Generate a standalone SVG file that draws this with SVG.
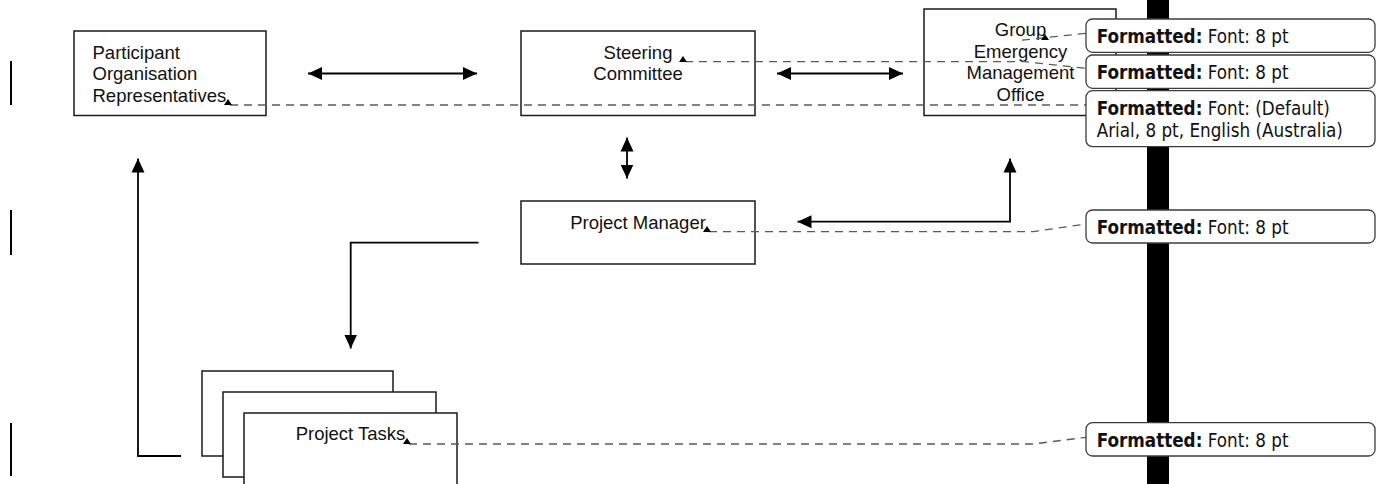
<svg xmlns="http://www.w3.org/2000/svg" width="1376" height="484" viewBox="0 0 1376 484">
<style>
.box{fill:#fff;stroke:#1a1a1a;stroke-width:1.5}
.lbl{font-family:"Liberation Sans",Arial,sans-serif;font-size:18.5px;fill:#111}
.mid{text-anchor:middle}
.arr{fill:none;stroke:#000;stroke-width:1.8}
.dash{fill:none;stroke:#5a5a5a;stroke-width:1.3;stroke-dasharray:8 6}
.anc{fill:#000}
.bal{fill:#fff;stroke:#3c3c3c;stroke-width:1.3}
.bt{font-family:"DejaVu Sans Condensed","DejaVu Sans",sans-serif;font-stretch:condensed;font-size:18.7px;fill:#111}
.bt tspan.b{font-weight:bold}
.bar{fill:#000}
</style>
<defs>
<marker id="ah" markerUnits="userSpaceOnUse" markerWidth="14" markerHeight="14" refX="14" refY="7" orient="auto-start-reverse" viewBox="0 0 14 14">
<path d="M0,0.5 L14,7 L0,13.5 z" fill="#000"/>
</marker>
</defs>
<g id="change-bars">
<rect class="bar" x="10" y="61" width="2" height="44"/>
<rect class="bar" x="10" y="210" width="2" height="45"/>
<rect class="bar" x="10" y="423" width="2" height="53"/>
</g>
<rect id="margin-bar" class="bar" x="1147" y="0" width="22" height="484"/>
<g id="node-participant">
<rect class="box" x="74" y="31" width="192" height="84.5"/>
<text class="lbl" x="92.5" y="59">Participant</text>
<text class="lbl" x="92.5" y="80">Organisation</text>
<text class="lbl" x="92.5" y="101.5">Representatives</text>
</g>
<g id="node-steering">
<rect class="box" x="521" y="31" width="234" height="84.5"/>
<text class="lbl mid" x="638" y="59">Steering</text>
<text class="lbl mid" x="638" y="80">Committee</text>
</g>
<g id="node-group">
<rect class="box" x="924" y="9" width="192" height="106.5"/>
<text class="lbl mid" x="1020.5" y="36">Group</text>
<text class="lbl mid" x="1020.5" y="57.5">Emergency</text>
<text class="lbl mid" x="1020.5" y="79">Management</text>
<text class="lbl mid" x="1020.5" y="100.5">Office</text>
</g>
<g id="node-pm">
<rect class="box" x="521" y="201" width="234" height="63"/>
<text class="lbl mid" x="638" y="228.5">Project Manager</text>
</g>
<g id="node-tasks">
<rect class="box" x="202" y="371" width="191" height="85"/>
<rect class="box" x="223" y="392" width="213" height="85"/>
<rect class="box" x="244" y="413" width="213" height="85"/>
<text class="lbl mid" x="350.5" y="439.5">Project Tasks</text>
</g>
<g id="connectors">
<line class="arr" x1="308" y1="73.5" x2="477" y2="73.5" marker-start="url(#ah)" marker-end="url(#ah)"/>
<line class="arr" x1="777" y1="73.5" x2="903" y2="73.5" marker-start="url(#ah)" marker-end="url(#ah)"/>
<line class="arr" x1="627" y1="137.5" x2="627" y2="178.5" marker-start="url(#ah)" marker-end="url(#ah)"/>
<polyline class="arr" points="1010,158.5 1010,221.7 797.5,221.7" marker-start="url(#ah)" marker-end="url(#ah)"/>
<polyline class="arr" points="478.5,242.7 350.7,242.7 350.7,348.5" marker-end="url(#ah)"/>
<polyline class="arr" points="181,456 138,456 138,158.5" marker-end="url(#ah)"/>
</g>
<g id="comment-links">
<polyline class="dash" points="230,105 1086,105"/>
<polyline class="dash" points="685,61.7 1025,61.7 1086,68.3"/>
<polyline class="dash" points="1022,40.2 1086,33.3"/>
<polyline class="dash" points="709,231.7 1033,231.7 1086,224"/>
<polyline class="dash" points="409,444 1033,444 1086,437.3"/>
<path class="anc" d="M224,105 L228,99 L232,105 z"/>
<path class="anc" d="M679,62 L683,56 L687,62 z"/>
<path class="anc" d="M1041,40 L1045,34 L1049,40 z"/>
<path class="anc" d="M703,232 L707,226 L711,232 z"/>
<path class="anc" d="M403,444 L407,438 L411,444 z"/>
</g>
<g id="comment-1">
<rect class="bal" x="1086" y="19" width="289" height="33.3" rx="6.5"/>
<text class="bt" x="1096.7" y="43.3"><tspan class="b">Formatted:</tspan> Font: 8 pt</text>
</g>
<g id="comment-2">
<rect class="bal" x="1086" y="55" width="289" height="33.3" rx="6.5"/>
<text class="bt" x="1096.7" y="79"><tspan class="b">Formatted:</tspan> Font: 8 pt</text>
</g>
<g id="comment-3">
<rect class="bal" x="1086" y="90.7" width="289" height="56" rx="6.5"/>
<text class="bt" x="1096.7" y="115"><tspan class="b">Formatted:</tspan> Font: (Default)</text>
<text class="bt" x="1096.7" y="137.3">Arial, 8 pt, English (Australia)</text>
</g>
<g id="comment-4">
<rect class="bal" x="1086" y="210" width="289" height="33" rx="6.5"/>
<text class="bt" x="1096.7" y="234"><tspan class="b">Formatted:</tspan> Font: 8 pt</text>
</g>
<g id="comment-5">
<rect class="bal" x="1086" y="422.7" width="289" height="33.3" rx="6.5"/>
<text class="bt" x="1096.7" y="446.7"><tspan class="b">Formatted:</tspan> Font: 8 pt</text>
</g>
</svg>
